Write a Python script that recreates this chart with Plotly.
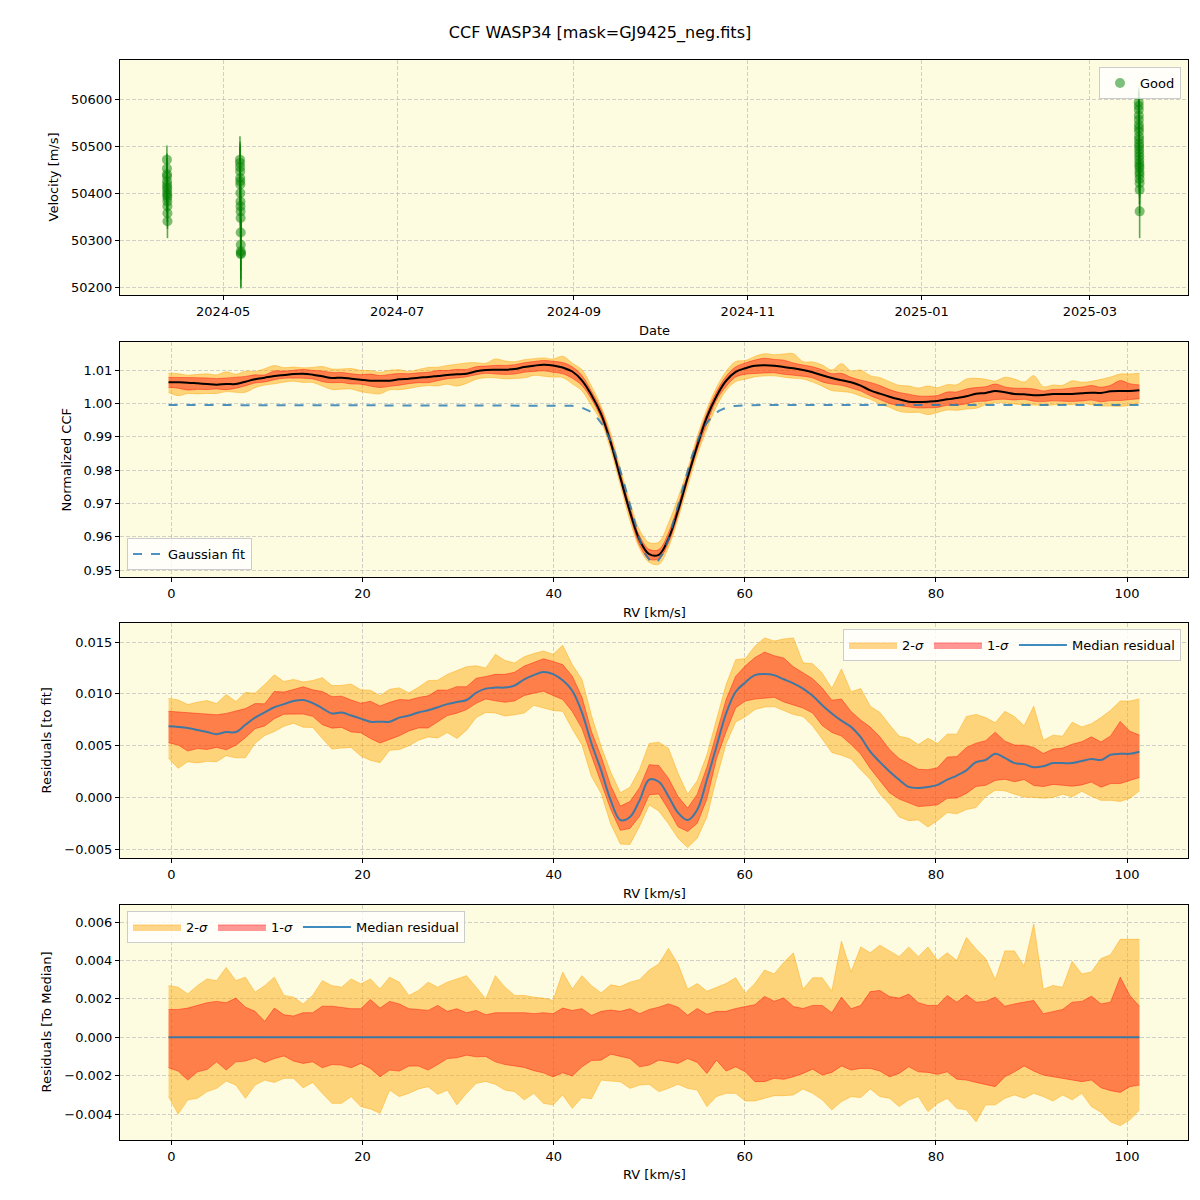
import numpy as np
import plotly.graph_objects as go

TITLE = "CCF WASP34 [mask=GJ9425_neg.fits]"

# ---------------- Panel 1: velocity time series ----------------
obs_dates = [
    "2024-04-11 06:00", "2024-04-11 06:20", "2024-04-11 06:40", "2024-04-11 07:00", "2024-04-11 07:20",
    "2024-04-11 07:40", "2024-04-11 08:00", "2024-04-11 08:20", "2024-04-11 08:40", "2024-04-11 09:00",
    "2024-04-11 09:20", "2024-04-11 09:40", "2024-04-11 10:00", "2024-04-11 10:20", "2024-04-11 10:40",
    "2024-05-06 21:00", "2024-05-06 21:30", "2024-05-06 22:00", "2024-05-06 22:30", "2024-05-06 23:00",
    "2024-05-06 23:30", "2024-05-07 00:00", "2024-05-07 00:30", "2024-05-07 01:00", "2024-05-07 01:30",
    "2024-05-07 02:00", "2024-05-07 02:30", "2024-05-07 03:00", "2024-05-07 03:30", "2024-05-07 04:00",
    "2024-05-07 04:30", "2024-05-07 05:00",
    "2025-03-18 03:00", "2025-03-18 03:20", "2025-03-18 03:40", "2025-03-18 04:00", "2025-03-18 04:20",
    "2025-03-18 04:40", "2025-03-18 05:00", "2025-03-18 05:20", "2025-03-18 05:40", "2025-03-18 06:00",
    "2025-03-18 06:20", "2025-03-18 06:40", "2025-03-18 07:00", "2025-03-18 07:20", "2025-03-18 07:40",
    "2025-03-18 08:00", "2025-03-18 08:20", "2025-03-18 08:40", "2025-03-18 09:00", "2025-03-18 09:20",
    "2025-03-18 09:40", "2025-03-18 10:00", "2025-03-18 10:20", "2025-03-18 10:40", "2025-03-18 11:00",
]
velocity = [
    50471, 50452, 50440, 50435, 50425, 50418, 50412, 50407, 50400, 50395, 50390, 50382, 50372, 50357, 50340,
    50471, 50464, 50455, 50446, 50432, 50425, 50418, 50400, 50382, 50372, 50361, 50347, 50316, 50290, 50276,
    50272, 50270,
    50593, 50585, 50577, 50565, 50556, 50545, 50538, 50531, 50520, 50513, 50505, 50499, 50492, 50485, 50478,
    50471, 50464, 50458, 50453, 50445, 50439, 50430, 50421, 50407, 50361,
]
velocity_err = [
    30, 32, 35, 33, 30, 34, 36, 30, 32, 35, 33, 31, 34, 33, 36,
    50, 45, 48, 52, 47, 50, 45, 48, 50, 46, 52, 48, 50, 55, 60,
    75, 70,
    30, 32, 35, 33, 36, 30, 34, 38, 32, 35, 37, 33, 36, 40, 34,
    38, 35, 40, 36, 42, 38, 40, 45, 50, 57,
]

# ---------------- CCF grid and Gaussian fit parameters ----------------
rv_start, rv_end, n_rv = -0.3, 101.3, 102
gauss_offset = 0.9995
gauss_depth = 0.0473
gauss_center = 50.5
gauss_sigma = 2.65

# median residual to the fit (units of 1e-3), one value per km/s
resid_median_milli = [
    6.86, 6.8, 6.7, 6.5, 6.3, 6.1, 6.3, 6.3, 7.0, 7.7,
    8.2, 8.7, 9.0, 9.3, 9.4, 9.1, 8.6, 8.1, 8.2, 7.9,
    7.6, 7.3, 7.3, 7.3, 7.7, 7.9, 8.2, 8.4, 8.7, 9.0,
    9.2, 9.4, 10.1, 10.5, 10.6, 10.6, 10.8, 11.4, 11.8, 12.1,
    11.9, 11.3, 10.3, 8.2, 5.2, 2.6, -0.3, -2.2, -1.9, -0.3,
    1.7, 1.5, 0.1, -1.5, -2.2, -1.2, 1.7, 4.9, 8.1, 10.2,
    11.1, 11.8, 11.9, 11.8, 11.4, 11.0, 10.5, 9.8, 8.9, 8.1,
    7.4, 6.8, 5.8, 4.4, 3.4, 2.5, 1.7, 1.0, 0.9, 1.0,
    1.2, 1.7, 2.1, 2.6, 3.4, 3.6, 4.2, 3.8, 3.3, 3.2,
    2.9, 3.0, 3.3, 3.3, 3.3, 3.5, 3.7, 3.6, 4.1, 4.2,
    4.2, 4.4,
]
# band edges relative to the median (units of 1e-3)
up2_milli = [
    2.69, 2.61, 2.26, 2.69, 3.04, 2.95, 3.64, 2.95, 3.13, 2.35,
    2.69, 3.13, 2.18, 2.09, 1.74, 2.18, 2.95, 2.69, 2.61, 3.04,
    2.78, 3.04, 2.52, 3.13, 2.87, 2.18, 2.44, 2.87, 2.61, 2.87,
    3.04, 3.21, 2.61, 2.0, 3.21, 2.61, 2.18, 2.18, 2.09, 2.04,
    1.92, 3.39, 2.52, 3.21, 2.69, 2.31, 2.73, 2.64, 2.87, 3.0,
    3.5, 3.82, 4.63, 3.82, 2.5, 2.8, 2.4, 2.6, 2.8, 3.1,
    2.3, 2.8, 3.5, 3.3, 3.9, 4.4, 2.5, 3.1, 3.1, 2.4,
    5.0, 3.4, 4.7, 4.4, 4.8, 4.5, 4.2, 4.7, 4.2, 4.7,
    4.0, 4.4, 4.0, 5.2, 4.6, 4.1, 3.0, 4.5, 4.5, 3.7,
    5.9, 2.5, 2.7, 2.6, 3.95, 3.3, 3.4, 4.1, 4.3, 5.1,
    5.1, 5.1,
]
up1_milli = [
    1.45, 1.45, 1.52, 1.66, 1.80, 1.87, 1.80, 2.04, 1.57, 1.35,
    0.83, 1.52, 1.17, 1.11, 1.28, 1.28, 1.62, 1.62, 1.57, 1.49,
    1.49, 1.97, 1.52, 1.87, 1.74, 1.49, 1.45, 1.40, 1.66, 1.35,
    1.49, 1.28, 1.40, 1.17, 1.28, 1.28, 1.28, 1.28, 1.23, 1.28,
    1.23, 1.52, 1.40, 1.49, 1.14, 1.35, 1.42, 1.35, 1.49, 1.23,
    1.45, 1.57, 1.74, 1.57, 1.15, 1.5, 1.2, 1.35, 1.35, 1.5,
    1.6, 1.7, 2.13, 1.88, 2.05, 1.6, 1.5, 1.66, 1.66, 1.28,
    2.09, 1.49, 1.66, 2.38, 2.44, 2.12, 2.04, 2.25, 1.80, 1.66,
    1.66, 2.18, 1.83, 2.21, 1.83, 1.87, 2.09, 1.62, 1.74, 1.83,
    1.92, 1.23, 1.36, 1.45, 1.83, 1.87, 2.14, 1.74, 1.83, 3.13,
    2.18, 1.61,
]
lo1_milli = [
    -1.59, -1.76, -2.23, -1.80, -1.68, -1.28, -1.71, -1.28, -1.24, -1.07,
    -1.31, -1.11, -0.97, -1.24, -1.36, -1.28, -1.59, -1.42, -1.45, -1.59,
    -1.36, -1.62, -2.06, -1.71, -1.76, -1.50, -1.50, -1.71, -1.42, -1.11,
    -1.07, -0.93, -1.02, -1.0, -1.28, -1.42, -1.49, -1.57, -1.74, -1.85,
    -2.06, -1.85, -2.02, -1.54, -1.21, -1.19, -0.88, -1.00, -1.11, -1.54,
    -1.45, -1.19, -1.28, -1.36, -1.11, -1.31, -1.88, -1.19, -1.76, -1.54,
    -1.80, -2.31, -2.31, -2.14, -2.19, -2.06, -1.88, -1.66, -1.97, -1.83,
    -1.49, -1.71, -1.62, -1.62, -1.76, -2.06, -1.88, -1.54, -1.80, -1.83,
    -1.93, -1.80, -2.18, -2.23, -2.35, -2.45, -2.57, -2.06, -1.80, -1.49,
    -1.76, -1.97, -2.06, -2.14, -2.23, -2.31, -2.23, -2.63, -2.78, -2.87,
    -2.57, -2.49,
]
lo2_milli = [
    -3.09, -4.0, -3.26, -3.18, -2.83, -2.66, -2.28, -2.49, -3.18, -2.49,
    -2.23, -2.35, -2.14, -2.14, -2.63, -2.35, -2.92, -3.44, -3.44, -3.09,
    -3.61, -3.73, -3.96, -2.75, -3.09, -2.92, -2.69, -2.57, -2.97, -2.75,
    -3.52, -2.92, -2.40, -2.30, -2.45, -2.75, -2.83, -3.26, -2.92, -3.44,
    -3.52, -3.0, -3.70, -3.14, -3.2, -2.23, -2.28, -2.31, -2.66, -2.49,
    -2.45, -2.83, -2.66, -2.45, -2.66, -2.75, -3.61, -3.09, -2.92, -2.92,
    -3.32, -3.32, -3.18, -3.04, -3.04, -3.0, -2.69, -2.92, -3.26, -3.78,
    -3.35, -3.09, -3.14, -2.69, -3.09, -3.18, -3.61, -3.26, -3.09, -3.87,
    -3.44, -3.18, -3.70, -3.78, -4.4, -3.52, -3.52, -3.18, -3.0, -3.18,
    -2.92, -3.09, -3.32, -3.0, -3.26, -2.92, -3.61, -3.9, -4.4, -4.6,
    -4.3, -3.78,
]

# ---------------- derived series ----------------
rv = np.linspace(rv_start, rv_end, n_rv)
rv_fine = np.linspace(rv_start, rv_end, 1017)


def gauss(x):
    return gauss_offset - gauss_depth * np.exp(-0.5 * ((x - gauss_center) / gauss_sigma) ** 2)


fit_grid = gauss(rv)
fit_fine = gauss(rv_fine)
med = np.array(resid_median_milli) * 1e-3
up2 = np.array(up2_milli) * 1e-3
up1 = np.array(up1_milli) * 1e-3
lo1 = np.array(lo1_milli) * 1e-3
lo2 = np.array(lo2_milli) * 1e-3

# ---------------- styling ----------------
BG = "#fdfbe0"
C2 = "rgba(255,165,0,0.45)"
C1 = "rgba(255,0,0,0.4)"
CMED = "rgba(31,119,180,0.85)"
FONT = "DejaVu Sans"

fig = go.Figure()


def add_band(x, lo, hi, color, name, xa, ya, leg, showleg, shape="linear"):
    fig.add_trace(go.Scatter(x=x, y=hi, mode="lines", line=dict(color=color, width=1, shape=shape),
                             showlegend=False, hoverinfo="skip", xaxis=xa, yaxis=ya))
    fig.add_trace(go.Scatter(x=x, y=lo, mode="lines", line=dict(color=color, width=1, shape=shape),
                             fill="tonexty", fillcolor=color, name=name, showlegend=showleg,
                             legend=leg, xaxis=xa, yaxis=ya))


# Panel 1
fig.add_trace(go.Scatter(
    x=obs_dates, y=velocity, mode="markers", name="Good",
    marker=dict(color="rgba(0,128,0,0.5)", size=10),
    error_y=dict(type="data", array=velocity_err, color="rgba(0,128,0,0.65)", thickness=1.6, width=0),
    xaxis="x", yaxis="y", legend="legend"))

# Panel 2: CCF
ccf = fit_grid + med
add_band(rv, ccf + lo2, ccf + up2, C2, "2-<i>σ</i>", "x2", "y2", "legend2", False, "spline")
add_band(rv, ccf + lo1, ccf + up1, C1, "1-<i>σ</i>", "x2", "y2", "legend2", False, "spline")
fig.add_trace(go.Scatter(x=rv, y=ccf, mode="lines", line=dict(color="black", width=2, shape="spline"),
                         showlegend=False, xaxis="x2", yaxis="y2"))
fig.add_trace(go.Scatter(x=rv_fine, y=fit_fine, mode="lines", name="Gaussian fit",
                         line=dict(color="rgba(31,119,180,0.8)", width=2, dash="dash"),
                         xaxis="x2", yaxis="y2", legend="legend2"))

# Panel 3: residuals to fit
add_band(rv, med + lo2, med + up2, C2, "2-<i>σ</i>", "x3", "y3", "legend3", True)
add_band(rv, med + lo1, med + up1, C1, "1-<i>σ</i>", "x3", "y3", "legend3", True)
fig.add_trace(go.Scatter(x=rv, y=med, mode="lines", name="Median residual",
                         line=dict(color=CMED, width=2, shape="spline"),
                         xaxis="x3", yaxis="y3", legend="legend3"))

# Panel 4: residuals to median
zero = np.zeros(n_rv)
add_band(rv, lo2, up2, C2, "2-<i>σ</i>", "x4", "y4", "legend4", True)
add_band(rv, lo1, up1, C1, "1-<i>σ</i>", "x4", "y4", "legend4", True)
fig.add_trace(go.Scatter(x=rv, y=zero, mode="lines", name="Median residual",
                         line=dict(color=CMED, width=2), xaxis="x4", yaxis="y4", legend="legend4"))


def ax(**kw):
    d = dict(showline=True, mirror=True, linecolor="black", linewidth=1, ticks="outside", ticklen=4,
             tickcolor="black", showgrid=True, gridcolor="rgba(180,180,180,0.6)", griddash="4px,2px",
             gridwidth=1, zeroline=False, tickfont=dict(size=13, color="black", family=FONT))
    d.update(kw)
    return d


XD = [0.1, 0.99]
RVR = [-5.38, 106.38]
legstyle = dict(bgcolor="rgba(255,255,255,0.8)", bordercolor="#cccccc", borderwidth=1,
                font=dict(size=13, color="black", family=FONT), traceorder="normal")

fig.update_layout(
    width=1200, height=1200, margin=dict(l=0, r=0, t=0, b=0),
    paper_bgcolor="white", plot_bgcolor=BG,
    font=dict(family=FONT, size=13, color="black"),
    title=dict(text=TITLE, x=0.5, xanchor="center", y=1 - 32 / 1200, yanchor="middle",
               font=dict(size=16, family=FONT, color="black")),
    xaxis=ax(domain=XD, anchor="y", type="date", range=["2024-03-25 19:00", "2025-04-04 10:00"],
             tick0="2024-05-01", dtick="M2", tickformat="%Y-%m"),
    yaxis=ax(domain=[1 - 295 / 1200, 1 - 60 / 1200], anchor="x", range=[50183, 50683],
             dtick=100, tickformat="d"),
    xaxis2=ax(domain=XD, anchor="y2", range=RVR, dtick=20, tick0=0),
    yaxis2=ax(domain=[1 - 577 / 1200, 1 - 342 / 1200], anchor="x2", range=[0.9479, 1.0184],
              dtick=0.01, tickformat=".2f"),
    xaxis3=ax(domain=XD, anchor="y3", range=RVR, dtick=20, tick0=0),
    yaxis3=ax(domain=[1 - 858 / 1200, 1 - 623 / 1200], anchor="x3", range=[-0.00587, 0.01684],
              dtick=0.005, tickformat=".3f"),
    xaxis4=ax(domain=XD, anchor="y4", range=RVR, dtick=20, tick0=0),
    yaxis4=ax(domain=[1 - 1140 / 1200, 1 - 905 / 1200], anchor="x4", range=[-0.00535, 0.00689],
              dtick=0.002, tickformat=".3f"),
    legend=dict(x=1181 / 1200, y=1 - 67 / 1200, xanchor="right", yanchor="top", **legstyle),
    legend2=dict(x=127 / 1200, y=1 - 570 / 1200, xanchor="left", yanchor="bottom", **legstyle),
    legend3=dict(x=1181 / 1200, y=1 - 629 / 1200, xanchor="right", yanchor="top", orientation="h",
                 itemwidth=48, **legstyle),
    legend4=dict(x=127 / 1200, y=1 - 911 / 1200, xanchor="left", yanchor="top", orientation="h",
                 itemwidth=48, **legstyle),
)

annots = [
    ("Date", 0.545, 1 - 330 / 1200, 0),
    ("RV [km/s]", 0.545, 1 - 612 / 1200, 0),
    ("RV [km/s]", 0.545, 1 - 893 / 1200, 0),
    ("RV [km/s]", 0.545, 1 - 1174 / 1200, 0),
    ("Velocity [m/s]", 53 / 1200, 1 - 177.5 / 1200, -90),
    ("Normalized CCF", 66 / 1200, 1 - 459.5 / 1200, -90),
    ("Residuals [to fit]", 46 / 1200, 1 - 740.5 / 1200, -90),
    ("Residuals [To Median]", 46 / 1200, 1 - 1022.5 / 1200, -90),
]
for text, x, y, ang in annots:
    fig.add_annotation(text=text, x=x, y=y, xref="paper", yref="paper", showarrow=False,
                       textangle=ang, xanchor="center", yanchor="middle",
                       font=dict(size=13, family=FONT, color="black"))

fig.write_html("out.html")
